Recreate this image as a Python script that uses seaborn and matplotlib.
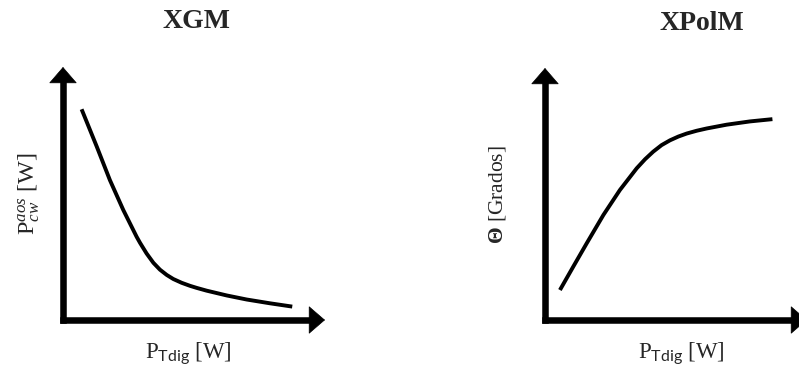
import matplotlib
matplotlib.use("Agg")
import matplotlib.pyplot as plt
import seaborn as sns
import pandas as pd

# Curve samples (axis-fraction units, origin at the arrow corner)
xgm_x = [0.071, 0.129, 0.179, 0.230, 0.281, 0.294, 0.319, 0.345, 0.370, 0.396, 0.421,
         0.453, 0.485, 0.510, 0.548, 0.625, 0.701, 0.790, 0.875]
xgm_y = [0.833, 0.685, 0.553, 0.435, 0.329, 0.305, 0.263, 0.226, 0.199, 0.178, 0.162,
         0.147, 0.135, 0.127, 0.116, 0.097, 0.081, 0.066, 0.053]

xpolm_x = [0.057, 0.108, 0.159, 0.223, 0.286, 0.350, 0.382, 0.413, 0.445, 0.477, 0.509,
           0.541, 0.579, 0.617, 0.693, 0.782, 0.868]
xpolm_y = [0.119, 0.212, 0.304, 0.417, 0.516, 0.602, 0.638, 0.668, 0.694, 0.713, 0.728,
           0.740, 0.751, 0.760, 0.775, 0.788, 0.797]

titles = ["XGM", "XPolM"]
y_labels = [r"$\mathrm{P}_{cw}^{aos}$ [W]", r"$\mathbf{\Theta}$ [Grados]"]
x_label = r"$\mathrm{P}_{\mathsf{Tdig}}$ [W]"

sns.set_theme(style="white")
plt.rcParams["font.family"] = ["Liberation Serif", "DejaVu Serif"]
plt.rcParams["mathtext.fontset"] = "custom"
plt.rcParams["mathtext.rm"] = "Liberation Serif"
plt.rcParams["mathtext.it"] = "Liberation Serif:italic"
plt.rcParams["mathtext.bf"] = "Liberation Serif:bold"
plt.rcParams["mathtext.sf"] = "Lato"

W, H = 799, 375
fig = plt.figure(figsize=(W / 100, H / 100), dpi=100)


def px_axes(x0, y0, w, h):
    """Axes whose origin sits at pixel (x0, y0) measured from the top-left."""
    return fig.add_axes([x0 / W, (H - y0) / H, w / W, h / H])


def draw_arrows(ax):
    shaft = dict(color="black", lw=4.7, transform=ax.transAxes, clip_on=False,
                 solid_capstyle="projecting")
    ax.plot([0, 0], [0, 0.95], **shaft)
    ax.plot([0, 0.95], [0, 0], **shaft)
    head = dict(arrowstyle="-|>,head_length=1.1,head_width=0.95", mutation_scale=10,
                lw=0.5, color="black", shrinkA=0, shrinkB=0)
    ax.annotate("", xy=(0, 1.0), xytext=(0, 0.9), xycoords="axes fraction",
                arrowprops=head, annotation_clip=False)
    ax.annotate("", xy=(1.0, 0), xytext=(0.9, 0), xycoords="axes fraction",
                arrowprops=head, annotation_clip=False)


def setup(ax):
    ax.set_xlim(0, 1)
    ax.set_ylim(0, 1)
    ax.set_xticks([])
    ax.set_yticks([])
    ax.set_xlabel("")
    ax.set_ylabel("")
    for s in ax.spines.values():
        s.set_visible(False)
    ax.patch.set_alpha(0)


ax1 = px_axes(63, 320, 262, 253)
ax2 = px_axes(545, 320, 262, 252)

for ax, xs, ys in [(ax1, xgm_x, xgm_y), (ax2, xpolm_x, xpolm_y)]:
    df = pd.DataFrame({"x": xs, "y": ys})
    sns.lineplot(data=df, x="x", y="y", ax=ax, sort=False, color="black",
                 lw=2.8, solid_capstyle="butt", solid_joinstyle="round")
    setup(ax)
    draw_arrows(ax)

# Titles
fig.text(196 / W, 1 - 21 / H, titles[0], ha="center", va="center",
         fontsize=20, fontweight="bold")
fig.text(702 / W, 1 - 24 / H, titles[1], ha="center", va="center",
         fontsize=20, fontweight="bold")

# Axis labels
fig.text(188 / W, 1 - 354 / H, x_label, ha="center", va="center", fontsize=16.5)
fig.text(681 / W, 1 - 354 / H, x_label, ha="center", va="center", fontsize=16.5)
fig.text(29 / W, 1 - 193 / H, y_labels[0], ha="center", va="center",
         rotation=90, fontsize=17.5)
fig.text(497 / W, 1 - 195 / H, y_labels[1], ha="center", va="center",
         rotation=90, fontsize=15.5)

fig.savefig("out.png", dpi=100, facecolor="white")
